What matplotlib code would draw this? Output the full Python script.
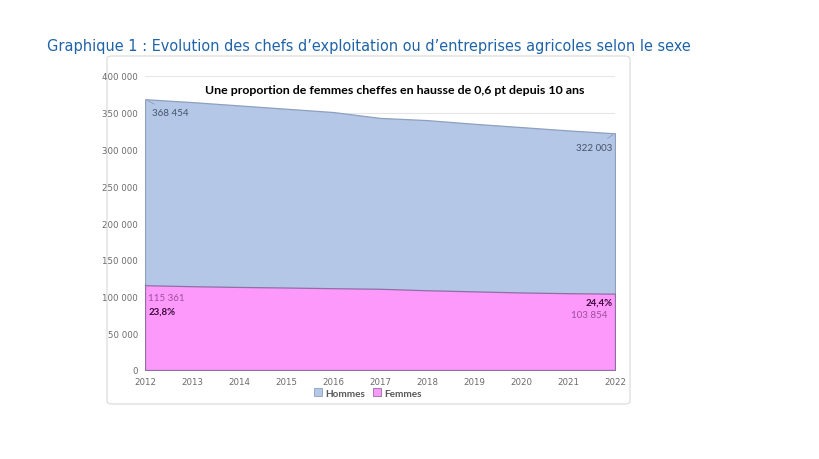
import numpy as np
import matplotlib
matplotlib.use("Agg")
from matplotlib import pyplot as plt
from matplotlib.patches import FancyBboxPatch

years = [2012, 2013, 2014, 2015, 2016, 2017, 2018, 2019, 2020, 2021, 2022]
hommes = [368454, 364500, 360000, 355500, 351000, 343000, 340000, 335000, 330500, 326000, 322003]
femmes = [115361, 114000, 113000, 112200, 111300, 110500, 108500, 107000, 105500, 104500, 103854]
yticks = [0, 50000, 100000, 150000, 200000, 250000, 300000, 350000, 400000]
ylabels = ["0", "50 000", "100 000", "150 000", "200 000", "250 000", "300 000", "350 000", "400 000"]

W, H = 819, 460
fig = plt.figure(figsize=(W / 100, H / 100), dpi=100)
fig.patch.set_facecolor("white")

# cadre du graphique
box = FancyBboxPatch((107 / W, 1 - 405 / H), (630 - 107) / W, (405 - 57) / H,
                     boxstyle="round,pad=0,rounding_size=0.006", transform=fig.transFigure,
                     facecolor="white", edgecolor="#d9d9d9", linewidth=0.8, zorder=-5)
fig.patches.append(box)

fig.text(47 / W, 1 - 46 / H, "Graphique 1 : Evolution des chefs d\u2019exploitation ou d\u2019entreprises agricoles selon le sexe",
         fontsize=11.65, color="#1f63a8", family="DejaVu Sans", fontstretch="condensed",
         va="center", ha="left")

ax = fig.add_axes([145 / W, 1 - 371 / H, (615 - 145) / W, (371 - 77) / H])
ax.set_zorder(2)
ax.patch.set_alpha(0)
ax.set_xlim(2012, 2022)
ax.set_ylim(0, 400000)

ax.fill_between(years, hommes, 0, facecolor="#b4c7e7", edgecolor="#8e9fbf", linewidth=0.9, zorder=2)
ax.fill_between(years, femmes, 0, facecolor="#fe99fc", edgecolor="#8e6fa6", linewidth=0.9, zorder=3)

ax.set_yticks(yticks)
ax.set_yticklabels(ylabels)
ax.set_xticks(years)
ax.set_xticklabels([str(y) for y in years])
ax.tick_params(length=0, labelsize=6.2, labelcolor="#6b6b6b", pad=5)
ax.grid(axis="y", color="#e6e6e6", linewidth=0.8, zorder=0)
ax.set_axisbelow(True)
for s in ax.spines.values():
    s.set_visible(False)
ax.spines["bottom"].set_visible(True)
ax.spines["bottom"].set_color("#d9d9d9")

ax.text(0.532, 1 - (90 - 77) / (371 - 77), "Une proportion de femmes cheffes en hausse de 0,6 pt depuis 10 ans",
        transform=ax.transAxes, ha="center", va="center", fontsize=8.95, fontweight="bold",
        family="Lato", color="black")

lab_font = dict(fontsize=7.0, family="Lato")
ax.annotate("368 454", xy=(years[0], hommes[0]), xytext=(2012.15, 350000),
            color="#44546a", va="center", ha="left", **lab_font,
            arrowprops=dict(arrowstyle="-", color="#8e9fbf", lw=0.6))
ax.annotate("322 003", xy=(years[-1], hommes[-1]), xytext=(2021.95, 303000),
            color="#44546a", va="center", ha="right", **lab_font,
            arrowprops=dict(arrowstyle="-", color="#8e9fbf", lw=0.6))
ax.text(2012.07, 98000, "115 361", color="#9c4f9c", va="center", ha="left", **lab_font)
ax.text(2012.07, 79500, "23,8%", color="#3a0a3a", va="center", ha="left", fontweight="bold",
        fontsize=7.0, family="Lato")
ax.text(2021.95, 92000, "24,4%", color="#3a0a3a", va="center", ha="right", fontweight="bold",
        fontsize=7.0, family="Lato")
ax.text(2021.85, 75000, "103 854", color="#9c4f9c", va="center", ha="right", **lab_font)

# legende
leg = fig.legend(handles=[plt.Rectangle((0, 0), 1, 1, facecolor="#b4c7e7", edgecolor="#8e9fbf", lw=0.6),
                          plt.Rectangle((0, 0), 1, 1, facecolor="#fe99fc", edgecolor="#8e6fa6", lw=0.6)],
                 labels=["Hommes", "Femmes"], loc="center", bbox_to_anchor=(368 / W, 1 - 394 / H),
                 ncol=2, frameon=False, handlelength=0.8, handleheight=0.8,
                 handletextpad=0.3, columnspacing=0.8, prop=dict(family="Lato", weight="bold", size=7.2))
for t in leg.get_texts():
    t.set_color("#595959")

fig.savefig("out.png", dpi=100)
